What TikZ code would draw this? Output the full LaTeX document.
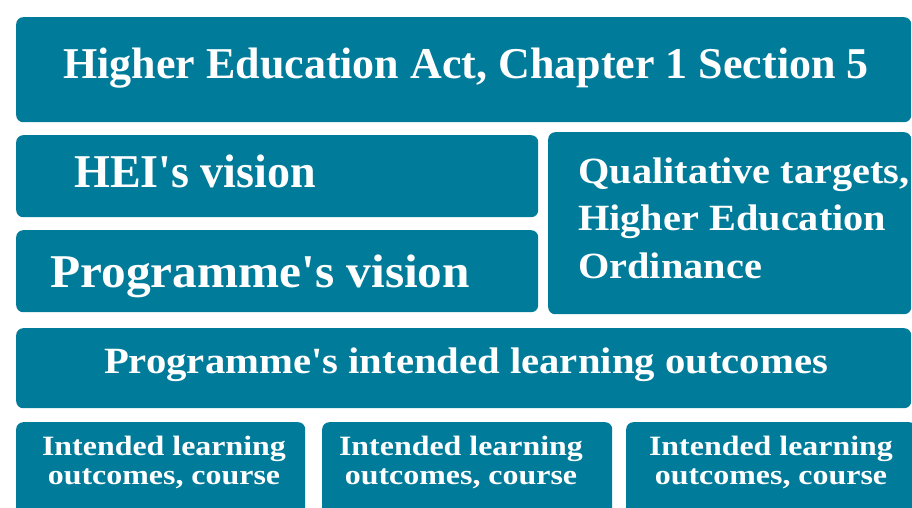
\documentclass[tikz,border=0pt]{standalone}
\usepackage{fontspec}
\setmainfont{Liberation Serif}
\definecolor{teal}{RGB}{0,123,153}
\tikzset{
  box/.style={fill=teal, draw=none, rounded corners=7pt, inner sep=0pt, anchor=north west},
  lbl/.style={text=white, font=\bfseries, inner sep=0pt},
}
\newcommand{\ap}{\textquotesingle}
\begin{document}
\begin{tikzpicture}[x=1pt,y=-1pt]
\useasboundingbox (0,0) rectangle (912,507);
\clip (0,0) rectangle (912,507);
\fill[white] (0,0) rectangle (912,507);
\node[box, minimum width=895pt, minimum height=105pt] (act) at (16,17) {};
\node[box, minimum width=522pt, minimum height=82pt] (hei) at (16,135) {};
\node[box, minimum width=522pt, minimum height=82pt] (prog) at (16,230) {};
\node[box, minimum width=363pt, minimum height=182pt] (qual) at (548,132) {};
\node[box, minimum width=895pt, minimum height=80pt] (ilo) at (16,328) {};
\node[box, minimum width=289pt, minimum height=110pt] (c1) at (16,422) {};
\node[box, minimum width=290pt, minimum height=110pt] (c2) at (322,422) {};
\node[box, minimum width=290pt, minimum height=110pt] (c3) at (626,422) {};

\node[lbl, anchor=base, font=\bfseries\fontsize{44}{50}\selectfont] (tact) at (466,78) {Higher Education Act, Chapter 1 Section 5};
\node[lbl, anchor=base west, font=\bfseries\fontsize{47}{52}\selectfont] (thei) at (74,187) {\scalebox{0.98}[1]{HEI\ap s vision}};
\node[lbl, anchor=base west, font=\bfseries\fontsize{47}{52}\selectfont] (tprog) at (50,287) {\scalebox{1.05}[1]{Programme\ap s vision}};
\node[lbl, anchor=base west, font=\bfseries\fontsize{37}{40}\selectfont] (tq1) at (578,183) {\scalebox{1.09}[1]{Qualitative targets,}};
\node[lbl, anchor=base west, font=\bfseries\fontsize{37}{40}\selectfont] (tq2) at (578,230) {\scalebox{1.09}[1]{Higher Education}};
\node[lbl, anchor=base west, font=\bfseries\fontsize{37}{40}\selectfont] (tq3) at (578,278) {\scalebox{1.09}[1]{Ordinance}};
\node[lbl, anchor=base, font=\bfseries\fontsize{37}{40}\selectfont] (tilo) at (466,373) {\scalebox{1.10}[1]{Programme\ap s intended learning outcomes}};
\foreach \n/\cx in {1/164,2/461,3/771}{
  \node[lbl, anchor=base, font=\bfseries\fontsize{28}{30}\selectfont] (tc\n a) at (\cx,455) {\scalebox{1.14}[1]{Intended learning}};
  \node[lbl, anchor=base, font=\bfseries\fontsize{28}{30}\selectfont] (tc\n b) at (\cx,484) {\scalebox{1.14}[1]{outcomes, course}};
}
\end{tikzpicture}
\end{document}
